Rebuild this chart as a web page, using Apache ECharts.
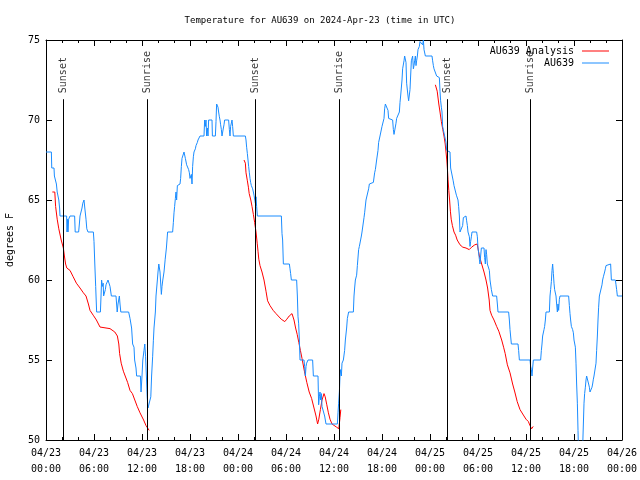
<!DOCTYPE html>
<html>
<head>
<meta charset="utf-8">
<script src="https://cdn.jsdelivr.net/npm/echarts@6/dist/echarts.min.js"></script>
<style>html,body{margin:0;padding:0;background:#fff}#c{width:640px;height:480px}</style>
</head>
<body>
<div id="c"></div>
<script>
// hours since 2024-04-23 00:00 UTC
const xTickLabels = ['04/23\n00:00','04/23\n06:00','04/23\n12:00','04/23\n18:00','04/24\n00:00','04/24\n06:00','04/24\n12:00','04/24\n18:00','04/25\n00:00','04/25\n06:00','04/25\n12:00','04/25\n18:00','04/26\n00:00'];
const yTicks = [50,55,60,65,70,75];
const sunEvents = [
  {name:'Sunset', h:2.17},{name:'Sunrise', h:12.67},
  {name:'Sunset', h:26.17},{name:'Sunrise', h:36.67},
  {name:'Sunset', h:50.17},{name:'Sunrise', h:60.55}
];
const au639Obs = [
[0,68],[0.67,68],[0.72,67],[1.0,67],[1.05,66.5],[1.25,66.5],[1.3,66],[1.4,65.5],[1.55,65.5],[1.6,65],[1.7,64.5],[1.75,64],[2.58,64],[2.63,63],[2.7,63.8],[2.75,63],[2.83,63.8],[3.0,64],[3.58,64],[3.65,63],[4.08,63],[4.17,63.5],[4.25,64],[4.45,64],[4.5,64.5],[4.6,64.8],[4.75,65],[4.85,64.5],[5.0,63.8],[5.1,63.2],[5.25,63],[5.92,63],[6.0,62.4],[6.1,61],[6.21,59.6],[6.33,58],[6.8,58],[6.88,59],[6.95,60],[7.05,59.6],[7.15,59.8],[7.2,59],[7.33,59],[7.42,59.4],[7.5,59.7],[7.67,59.7],[7.75,60],[7.92,60],[8.0,59.6],[8.17,59],[8.75,59],[8.9,58],[9.0,58.5],[9.17,59],[9.25,58.5],[9.35,58],[10.33,58],[10.5,57.6],[10.7,57],[10.83,56],[11.0,55.8],[11.08,55],[11.25,54.5],[11.33,54],[11.8,54],[11.88,53],[12.0,54],[12.1,55],[12.25,55.6],[12.35,56],[12.45,55.2],[12.55,54],[12.65,52.7],[12.75,52],[13.0,52],[13.1,52.7],[13.2,54],[13.33,55.2],[13.42,56.2],[13.5,57],[13.67,58],[13.75,59],[13.92,60],[14.0,60.5],[14.1,61],[14.25,60.5],[14.42,59.1],[14.5,59.6],[14.6,60],[14.75,60.5],[14.9,61.3],[15.05,62],[15.2,63],
[15.83,63],[15.92,63.6],[16.0,64.2],[16.08,64.6],[16.17,65.1],[16.25,65.5],[16.33,65],[16.42,65.9],[16.5,66],[16.75,66],[16.83,66.35],[16.92,67.1],[17.0,67.6],[17.17,67.7],[17.25,68],[17.33,67.9],[17.42,67.6],[17.5,67.6],[17.58,67.2],[17.75,67.1],[17.83,66.9],[17.92,66.7],[18.0,66.35],[18.08,66.35],[18.17,66.6],[18.25,66],[18.33,67.1],[18.42,67.7],[18.5,68],[18.67,68.2],[18.75,68.4],[18.92,68.6],[19.0,68.75],[19.17,68.75],[19.25,69],[19.75,69],[19.83,70],[19.92,69.6],[20.0,70],[20.08,69],[20.17,69.5],[20.25,69],[20.33,70],[20.75,70],[20.8,69],[21.17,69],[21.25,69.9],[21.33,71],[21.42,71],[21.5,70.8],[21.58,70.5],[21.67,70.2],[21.75,70],[21.83,69.7],[21.92,69.4],[22.0,69],[22.08,69],[22.17,69.5],[22.25,69.7],[22.33,70],[22.83,70],[22.92,69.4],[23.0,69],[23.08,69.6],[23.17,69.7],[23.25,70],[23.33,69.6],[23.42,69],[24.92,69],[25.0,68.75],[25.08,68.3],[25.17,67.9],[25.25,67.5],[25.33,67.1],[25.42,66.7],[25.5,66.35],[25.58,66.1],[25.67,65.9],[25.75,65.9],[25.83,65.7],[25.92,65.5],[26.0,65.3],[26.08,65.2],[26.17,64.8],[26.25,65.2],[26.33,64.6],[26.42,64],
[29.42,64],[29.5,62.9],[29.58,62.5],[29.67,61],[30.42,61],[30.5,60.7],[30.58,60.4],[30.67,60],[31.33,60],[31.42,59],[31.5,57.7],[31.58,57.3],[31.67,56.25],[31.75,55],[32.25,55],[32.33,54.6],[32.42,54],[32.5,54.6],[32.58,54.8],[32.67,54.8],[32.75,55],[33.33,55],[33.42,54],[34.0,54],[34.08,52.2],[34.17,52.7],[34.25,53],[34.33,52.5],[34.42,52.9],[34.5,52.1],[34.67,52],[34.83,51.5],[35.0,51],[36.42,51],[36.5,51.7],[36.58,52.3],[36.67,53],[36.75,54],[36.83,54.4],[36.92,54],[37.0,54.8],[37.17,55],[37.33,55.6],[37.42,56.25],[37.5,56.3],[37.58,57],[37.67,57.6],[37.75,57.6],[37.83,58],[38.42,58],[38.5,59],[38.58,59.5],[38.67,60],[38.83,60.3],[38.92,60.9],[39.08,61.9],
[39.17,62.1],[39.33,62.1],[39.42,62.75],[39.5,63],[39.67,63],[39.75,63.9],[39.83,64.2],[39.92,64.2],[40.0,65],[40.25,65.1],[40.33,65.7],[40.42,66],[40.58,66],[40.67,66.1],[40.92,66.1],[41.08,66.7],[41.17,66.9],[41.33,67.5],[41.5,68.1],[41.58,68.6],[41.67,68.6],[41.75,69],[41.92,69],[42.0,69.6],[42.17,69.6],[42.25,70.1],[42.33,70.7],[42.42,71],[42.67,71],[42.75,70.6],[42.83,70.1],[42.92,70],[43.33,70],[43.42,69.4],[43.5,69.1],[43.67,69.1],[43.75,69.8],[43.83,70.1],[44.08,70.1],[44.17,70.5],[44.25,71.1],[44.33,71.5],[44.42,71.5],[44.5,72.5],[44.58,73.2],[44.67,73.2],[44.75,73.7],[44.83,74],[44.92,74],[45.0,73.6],[45.08,72.3],[45.17,72.3],[45.25,71.5],[45.33,71.2],[45.42,71.1],[45.5,71.9],[45.58,72.75],[45.67,73.7],[45.75,73.7],[45.83,74],[45.92,73.2],[46.0,73.4],[46.08,73.7],[46.17,74],[46.25,73.4],[46.33,73.7],[46.42,74],[46.5,74.4],[46.67,74.6],[46.75,74.9],[46.83,75],[47.0,75],[47.08,74.7],[47.17,75],[47.25,74.4],[47.33,74.4],[47.42,74],[48.25,74],[48.33,73.7],[48.42,73.4],[48.5,73.2],[48.58,73.2],[48.67,73.1],[48.75,73.1],[48.83,72.75],[48.92,72.65],[49.17,72.65],[49.25,71.8],[49.33,71.2],[49.42,70.8],[49.5,70.5],[49.58,69.6],[49.75,69.6],[49.83,69],[49.92,69],[50.0,68.6],[50.08,68.1],[50.17,68],[50.5,68],
[50.58,67],[50.8,67],[50.9,66.2],[51.0,65.9],[51.2,65.5],[51.3,65.3],[51.45,65.3],[51.5,65],[51.58,64.6],[51.67,64],[51.75,63],[52.0,63],[52.08,63.4],[52.17,63.9],[52.25,64],[52.5,64],[52.58,63.7],[52.67,63.4],[52.75,63],[52.83,63],[52.92,62.7],[53.0,62.1],[53.08,62.4],[53.17,62.7],[53.25,63],[53.83,63],[53.92,62.7],[54.0,62.0],[54.08,61.7],[54.17,61.3],[54.25,61.0],[54.33,61.5],[54.42,62],[54.75,62],[54.83,61.4],[54.92,61],[55.0,61.9],[55.08,61.6],[55.17,61],[55.33,61],[55.42,60.6],[55.5,60],[55.58,60],[55.67,59.4],[55.75,59.4],[55.83,59],[56.33,59],[56.42,58.5],[56.5,58],[57.83,58],[57.92,57.5],[58.0,56.9],[58.08,56.9],[58.17,56],[59.0,56],[59.08,55.6],[59.17,55],[60.5,55],[60.58,54.6],[60.67,54.4],[60.75,54],[60.83,54.5],[60.92,55],[61.83,55],[61.92,55.6],[62.0,56],[62.08,56.5],[62.17,56.5],[62.25,56.9],[62.33,57.1],[62.42,57.5],[62.5,58],[62.92,58],[63.0,59],[63.08,59.4],[63.17,59.9],[63.25,60.6],[63.33,61],[63.42,60.4],[63.5,59.8],[63.58,59.4],[63.67,59.4],[63.75,59],[63.83,58.5],[63.92,58],[64.0,58.5],[64.08,58.1],[64.17,58.8],[64.25,59],[65.33,59],[65.42,58.4],[65.5,57.9],[65.58,57.5],[65.67,57.1],[65.75,57.1],[65.83,56.9],[65.92,56.7],[66.0,56.25],[66.08,56.25],[66.17,55.8],[66.25,54.8],[66.33,53.5],[66.42,52.3],[66.5,50.6],[66.58,49],[67.0,49],[67.08,49.5],[67.17,51],[67.25,52.3],[67.33,52.9],[67.42,53.3],[67.5,53.75],[67.58,54],[67.75,54],[67.83,53.5],[67.92,53.3],[68.0,53],[68.17,53],[68.25,53.3],[68.33,53.5],[68.42,53.8],[68.5,54],[68.67,54],[68.75,54.8],[68.83,55.6],[68.92,56.5],[69.0,57.5],[69.08,58.3],[69.17,59],[69.42,59],[69.5,59.7],[69.58,60],[69.67,60.2],[69.75,60.2],[69.83,60.5],[69.92,60.7],[70.0,60.9],[70.08,61],[70.58,61],[70.67,60],[71.17,60],[71.25,59.7],[71.33,59.4],[71.42,59],[72.0,59]
];
const analysisNight1 = [[0.79,65.5],[1.1,65.5],[1.2,64.6],[1.4,63.8],[1.6,63.2],[1.9,62.5],[2.17,62.0],[2.3,61.5],[2.45,61.0],[2.6,60.75],[2.8,60.7],[3.0,60.6],[3.4,60.2],[3.8,59.8],[4.25,59.5],[4.67,59.2],[5.0,59.0],[5.3,58.5],[5.5,58.1],[5.9,57.8],[6.3,57.5],[6.75,57.06],[8.0,56.96],[8.6,56.75],[8.92,56.5],[9.1,56.0],[9.2,55.4],[9.4,54.8],[9.67,54.3],[9.9,54.2],[10.2,53.6],[10.5,53.1],[10.8,52.9],[11.1,52.5],[11.4,52.1],[11.75,51.7],[12.2,51.25],[12.5,50.9],[12.9,50.6]];
const analysisNight2 = [[24.75,67.5],[24.92,67.3],[25.0,66.7],[25.17,66.2],[25.3,65.8],[25.4,65.4],[25.6,65.0],[25.75,64.6],[25.92,64.1],[26.08,63.6],[26.25,63.0],[26.4,62.3],[26.5,61.8],[26.6,61.3],[26.75,60.9],[27.0,60.5],[27.25,60.0],[27.5,59.3],[27.7,58.7],[28.0,58.4],[28.4,58.1],[28.75,57.9],[29.0,57.8],[29.4,57.55],[29.85,57.4],[30.1,57.55],[30.4,57.75],[30.75,57.9],[31.0,57.5],[31.2,57.0],[31.4,56.6],[31.6,56.1],[31.8,55.6],[32.0,55.1],[32.3,54.3],[32.6,53.6],[32.9,53.0],[33.2,52.6],[33.5,52.0],[33.75,51.5],[33.95,51.0],[34.1,51.3],[34.3,51.9],[34.5,52.5],[34.75,52.9],[34.9,52.7],[35.1,52.2],[35.3,51.7],[35.5,51.3],[35.75,51.0],[36.0,50.9],[36.33,50.8],[36.6,50.7],[36.75,51.4],[36.85,51.9]];
const analysisNight3 = [[48.67,72.2],[48.9,71.8],[49.1,71.0],[49.25,70.5],[49.42,69.9],[49.6,69.4],[49.75,69.0],[49.9,68.5],[50.0,68.0],[50.1,67.5],[50.17,67.0],[50.25,66.3],[50.35,65.6],[50.45,65.0],[50.55,64.3],[50.65,63.8],[50.8,63.4],[51.0,63.0],[51.2,62.8],[51.4,62.5],[51.75,62.2],[52.1,62.05],[52.5,62.0],[52.9,61.9],[53.2,62.05],[53.6,62.2],[53.9,62.25],[54.17,61.5],[54.46,61.0],[54.75,60.5],[55.0,60.0],[55.2,59.5],[55.4,58.75],[55.5,58.1],[55.7,57.8],[56.0,57.5],[56.33,57.1],[56.6,56.8],[56.96,56.25],[57.2,55.8],[57.4,55.4],[57.67,54.7],[58.0,54.2],[58.33,53.5],[58.6,53.0],[58.9,52.4],[59.25,51.9],[59.67,51.56],[60.0,51.3],[60.3,51.15],[60.5,50.9],[60.7,50.7],[60.9,50.85]];

const FONT = 'DejaVu Sans Mono';
const BLUE = '#1a8cff';
const RED = '#ff0000';
const SUN_TOP = 71.3;

const chart = echarts.init(document.getElementById('c'), null, {renderer:'canvas'});
const xCommon = {
  type:'value', min:0, max:72, interval:6,
  axisLine:{show:true, onZero:false, lineStyle:{color:'#000', width:1}},
  axisTick:{show:true, inside:true, length:6, lineStyle:{color:'#000'}},
  minorTick:{show:true, splitNumber:3, length:3, lineStyle:{color:'#000'}},
  splitLine:{show:false}, minorSplitLine:{show:false}
};
const yCommon = {
  type:'value', min:yTicks[0], max:yTicks[yTicks.length-1], interval:5,
  axisLine:{show:true, onZero:false, lineStyle:{color:'#000', width:1}},
  axisTick:{show:true, inside:true, length:6, lineStyle:{color:'#000'}},
  splitLine:{show:false}
};
const analysisStyle = (data, z) => ({
  name:'AU639 Analysis', type:'line', data, showSymbol:false, symbol:'none',
  lineStyle:{color:RED, width:1}, itemStyle:{color:RED}, z, clip:true
});
chart.setOption({
  animation:false,
  backgroundColor:'#fff',
  title:{text:'Temperature for AU639 on 2024-Apr-23 (time in UTC)', left:'center', top:11,
    textStyle:{fontFamily:FONT, fontSize:9, fontWeight:'normal', color:'#000'}},
  legend:{
    data:['AU639 Analysis','AU639'], orient:'vertical', right:26, top:41, align:'right',
    icon:'rect', itemWidth:27, itemHeight:1, itemGap:2,
    textStyle:{fontFamily:FONT, fontSize:10, color:'#000', lineHeight:10, padding:[0,3,0,0]}
  },
  grid:{left:46, right:18, top:40, bottom:40, containLabel:false, outerBoundsMode:'none'},
  xAxis:[
    Object.assign({}, xCommon, {position:'bottom',
      axisLabel:{show:true, margin:5, fontFamily:FONT, fontSize:10, color:'#000', lineHeight:16,
        formatter:(v)=>xTickLabels[Math.round(v/6)]}}),
    Object.assign({}, xCommon, {position:'top', axisLabel:{show:false}})
  ],
  yAxis:[
    Object.assign({}, yCommon, {position:'left',
      name:'degrees F', nameLocation:'middle', nameRotate:90, nameGap:31,
      nameTextStyle:{fontFamily:FONT, fontSize:10, color:'#000'},
      axisLabel:{show:true, margin:6, fontFamily:FONT, fontSize:10, color:'#000'}}),
    Object.assign({}, yCommon, {position:'right', axisLabel:{show:false}})
  ],
  series:[
    analysisStyle(analysisNight1, 2),
    analysisStyle(analysisNight2, 2),
    analysisStyle(analysisNight3, 2),
    {name:'AU639', type:'line', data:au639Obs, showSymbol:false, symbol:'none',
     lineStyle:{color:BLUE, width:1}, itemStyle:{color:BLUE}, z:3, clip:true},
    {name:'sun', type:'scatter', z:5, symbolSize:0, silent:true,
     data: sunEvents.map(e => ({name:e.name, value:[e.h, SUN_TOP]})),
     label:{show:true, position:'top', distance:6, rotate:90, align:'left', verticalAlign:'middle',
       formatter:(p)=>p.name, fontFamily:FONT, fontSize:10, color:'#000'},
     markLine:{silent:true, symbol:['none','none'], animation:false,
       lineStyle:{color:'#000', width:1, type:'solid'}, label:{show:false},
       data: sunEvents.map(e => [{coord:[e.h, SUN_TOP]}, {coord:[e.h, yTicks[0]]}])}
    }
  ]
});
</script>
</body>
</html>
